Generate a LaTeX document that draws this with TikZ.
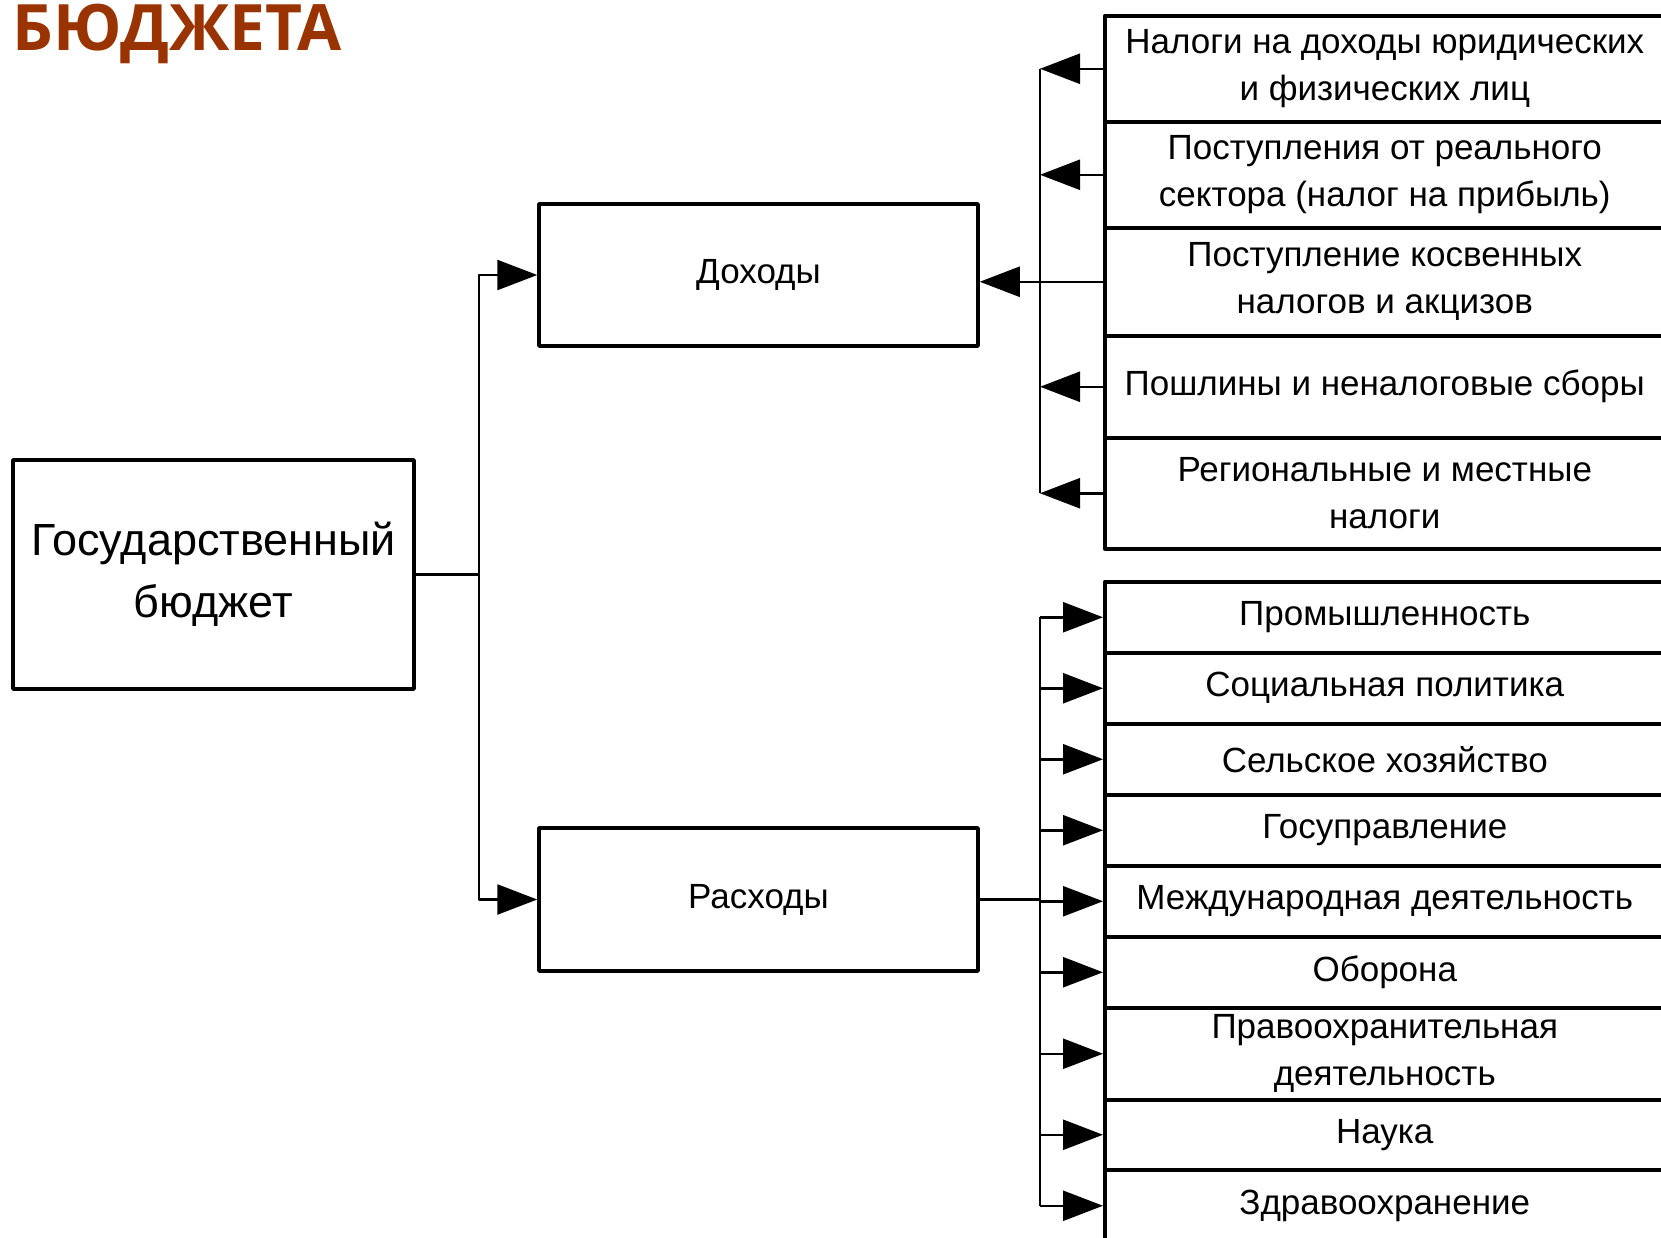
\documentclass[tikz,border=0pt]{standalone}
\usepackage{fontspec}
\setmainfont{Liberation Sans}
\newfontfamily\tieudefont{Open Sans}
\usetikzlibrary{arrows.meta}
\definecolor{naudo}{HTML}{993300}
\begin{document}
\begin{tikzpicture}[x=1pt,y=-1pt,line join=round,
	khung/.style={draw,line width=3.5pt,inner sep=0pt,align=center,font=\fontsize{35}{47}\selectfont},
	hang/.style={khung,minimum width=560pt,anchor=north west},
	mui/.style={-{Triangle[length=40pt,width=30pt]},line width=2.5pt}]
	%%Khung hình
	\clip (0,0) rectangle (1661,1237);
	\node[anchor=base west,inner sep=0pt,text=naudo,font=\tieudefont\bfseries\fontsize{64}{64}\selectfont] (tieude) at (12,50) {БЮДЖЕТА};
	%%Các khối chính
	\node[khung,minimum width=401pt,minimum height=229pt,font=\fontsize{45}{62}\selectfont] (byudzhet) at (213.5,574.5) {Государственный\\бюджет};
	\node[khung,minimum width=439pt,minimum height=142pt] (dokhody) at (758.5,275) {Доходы};
	\node[khung,minimum width=439pt,minimum height=143pt] (raskhody) at (758.5,899.5) {Расходы};
	%%Доходы
	\foreach \t/\h/\n/\s in {14/106/d1/{Налоги на доходы юридических\\и физических лиц},
		120/106/d2/{Поступления от реального\\сектора (налог на прибыль)},
		226/108/d3/{Поступление косвенных\\налогов и акцизов},
		334/102/d4/{Пошлины и неналоговые сборы},
		436/111/d5/{Региональные и местные\\налоги}}
	\node[hang,minimum height=\h pt] (\n) at (1103,\t) {\s};
	%%Расходы
	\foreach \t/\h/\n/\s in {580/71/r1/{Промышленность},
		651/71/r2/{Социальная политика},
		722/71/r3/{Сельское хозяйство},
		793/71/r4/{Госуправление},
		864/71/r5/{Международная деятельность},
		935/71/r6/{Оборона},
		1006/92/r7/{Правоохранительная\\деятельность},
		1098/70/r8/{Наука},
		1168/72/r9/{Здравоохранение}}
	\node[hang,minimum height=\h pt] (\n) at (1103,\t) {\s};
	%%Nối
	\coordinate (lv) at (1040,0);
	\draw[line width=2.5pt] (byudzhet.east)--++(63,0) coordinate (re);
	\draw[mui] (re)|-(dokhody.west);
	\draw[mui] (re)|-(raskhody.west);
	\draw[line width=2.5pt] (d1.west-|lv)--(d5.west-|lv);
	\foreach \i in {1,2,4,5}
	\draw[mui] (d\i.west)--(d\i.west-|lv);
	\draw[mui] (d3.west)--(d3.west-|dokhody.east);
	\draw[line width=2.5pt] (raskhody.east)--(raskhody.east-|lv);
	\draw[line width=2.5pt] (r1.west-|lv)--(r9.west-|lv);
	\foreach \i in {1,...,9}
	\draw[mui] (r\i.west-|lv)--(r\i.west);
\end{tikzpicture}
\end{document}
